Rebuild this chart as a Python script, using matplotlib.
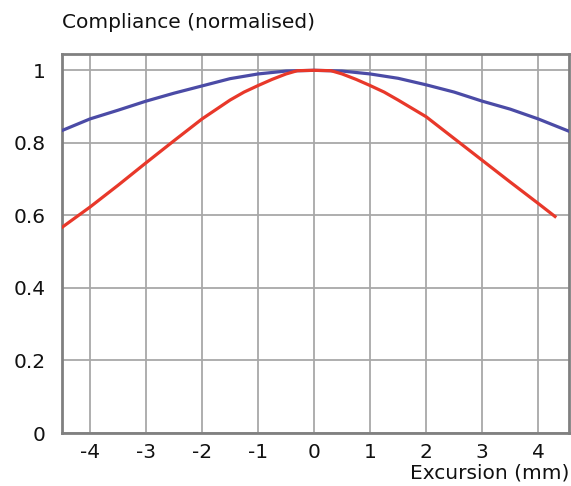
import matplotlib
matplotlib.use("Agg")
import matplotlib.pyplot as plt

plt.rcParams['font.family'] = ['DejaVu Sans']

# Data
blue_x = [-4.5, -4.0, -3.5, -3.0, -2.5, -2.0, -1.5, -1.0, -0.5, 0.0, 0.5, 1.0, 1.5, 2.0, 2.5, 3.0, 3.5, 4.0, 4.55]
blue_y = [0.834, 0.866, 0.89, 0.915, 0.937, 0.957, 0.977, 0.99, 0.998, 1.0, 0.998, 0.99, 0.978, 0.96, 0.94, 0.915, 0.893, 0.866, 0.832]

red_x = [-4.5, -4.0, -3.5, -3.0, -2.5, -2.0, -1.5, -1.25, -1.0, -0.75, -0.5, -0.3, 0.0, 0.3, 0.5, 0.75, 1.0, 1.25, 1.5, 2.0, 2.5, 3.0, 3.5, 4.0, 4.3]
red_y = [0.567, 0.623, 0.683, 0.745, 0.806, 0.866, 0.918, 0.94, 0.958, 0.975, 0.99, 0.999, 1.0, 0.999, 0.99, 0.975, 0.958, 0.94, 0.918, 0.872, 0.812, 0.752, 0.692, 0.633, 0.597]

x_ticks = [-4, -3, -2, -1, 0, 1, 2, 3, 4]
y_ticks = [0, 0.2, 0.4, 0.6, 0.8, 1]
y_tick_labels = ["0", "0.2", "0.4", "0.6", "0.8", "1"]

fig = plt.figure(figsize=(5.71, 4.86), dpi=100)
ax = fig.add_axes([62/571, 1 - 433/486, (569-62)/571, (433-54)/486])

ax.plot(blue_x, blue_y, color="#4b4ba6", lw=2.3, zorder=3)
ax.plot(red_x, red_y, color="#e8382a", lw=2.3, zorder=3)

ax.set_xlim(-4.5, 4.55)
ax.set_ylim(0, 1.045)
ax.set_xticks(x_ticks)
ax.set_xticklabels([str(t) for t in x_ticks])
ax.set_yticks(y_ticks)
ax.set_yticklabels(y_tick_labels)
ax.grid(True, color="#a8a8a8", lw=1.3)
ax.set_axisbelow(True)
ax.tick_params(length=0, labelsize=14.5, colors="#111111")
ax.tick_params(axis="y", pad=12)
ax.tick_params(axis="x", pad=7)
for s in ax.spines.values():
    s.set_color("#808080")
    s.set_linewidth(2)

fig.text(62/571, 1 - 23/486, "Compliance (normalised)", fontsize=14.5, ha="left", va="center", color="#111111")
fig.text(569/571, 1 - 473/486, "Excursion (mm)", fontsize=14.5, ha="right", va="center", color="#111111")

fig.savefig("out.png", dpi=100)
